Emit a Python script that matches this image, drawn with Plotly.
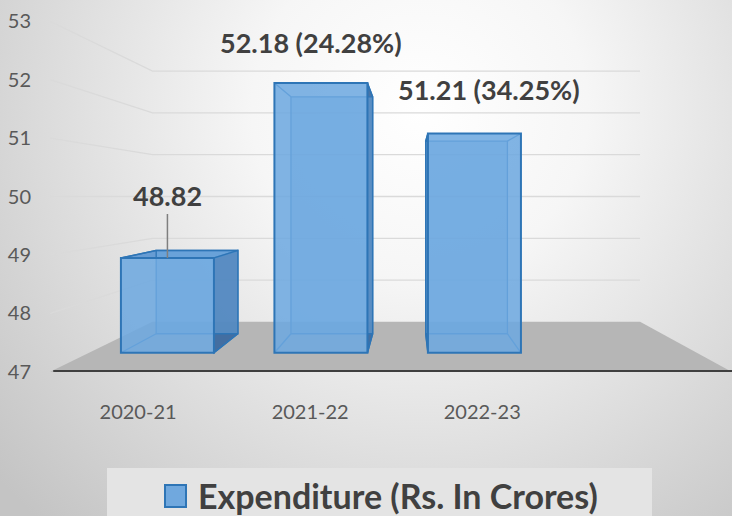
import base64
import plotly.graph_objects as go

# ---------------- data ----------------
categories = ["2020-21", "2021-22", "2022-23"]
expenditure = [48.82, 52.18, 51.21]
growth_pct = [None, 24.28, 34.25]
y_ticks = [47, 48, 49, 50, 51, 52, 53]
series_name = "Expenditure (Rs. In Crores)"

# ---------------- geometry / style ----------------
W, H = 732, 516
ML, MR, MT, MB = 50, 0, 0, 144
PW = W - ML - MR
PH = H - MT - MB

# simple perspective model (bar front plane = depth factor 1)
XV, YV = 1.58, 50.0          # vanishing point (category index, value)
F_FLOOR_FRONT = 1.121
F_BAR_BACK = 0.878
F_WALL = 0.802
X_FLOOR = (-0.511, 3.449)
BASE = 47.0
BAR_W = 0.606

FRONT_PX = 52.1               # px per unit on bar front plane
FRONT_BASE_PX = 352.8         # pixel row of value 47 on front plane
x_range = [-0.765, 3.678]
y_range = [BASE - (PH - FRONT_BASE_PX) / FRONT_PX, BASE + FRONT_BASE_PX / FRONT_PX]

label_dx = [0, -10, 15]
label_dy = [62, 40, 44]
leader = [True, False, False]

TXT = "#404040"
TICK_TXT = "#595959"
FONT = "Lato"
BAR_FILL = "rgba(108,168,224,0.86)"
BAR_LINE = "#2e75b6"


def proj(x, y, f):
    return XV + f * (x - XV), YV + f * (y - YV)


def path(pts, close=True):
    s = "M " + " L ".join(f"{a:.4f},{b:.4f}" for a, b in pts)
    return s + (" Z" if close else "")


def pxx(px):
    return (px - ML) / PW


def pxy(py):
    return (MT + PH - py) / PH


shapes = []
# floor
fl = [proj(X_FLOOR[0], BASE, F_FLOOR_FRONT), proj(X_FLOOR[1], BASE, F_FLOOR_FRONT),
      proj(X_FLOOR[1], BASE, F_WALL), proj(X_FLOOR[0], BASE, F_WALL)]
shapes.append(dict(type="path", xref="x", yref="y", path=path(fl),
                   fillcolor="#b6b6b6", line=dict(width=0), layer="below"))
# wall gridlines
for g in y_ticks:
    if g == BASE:
        continue
    pts = [proj(X_FLOOR[0], g, F_FLOOR_FRONT), proj(X_FLOOR[0], g, F_WALL),
           proj(X_FLOOR[1], g, F_WALL)]
    shapes.append(dict(type="path", xref="x", yref="y", path=path(pts, close=False),
                       line=dict(color="#dadada", width=1.3), layer="below"))
# axis line
a0 = proj(X_FLOOR[0], BASE, F_FLOOR_FRONT)
a1 = proj(X_FLOOR[1], BASE, F_FLOOR_FRONT)
shapes.append(dict(type="line", xref="x", yref="y", x0=a0[0] + 0.02, y0=a0[1],
                   x1=a1[0] + 0.2, y1=a1[1], line=dict(color="#3f3f3f", width=3.5),
                   layer="below"))

# 3D box edges for each bar
for i, v in enumerate(expenditure):
    x0, x1 = i - BAR_W / 2, i + BAR_W / 2
    fr = {"bl": (x0, BASE), "br": (x1, BASE), "tr": (x1, v), "tl": (x0, v)}
    bk = {k: proj(p[0], p[1], F_BAR_BACK) for k, p in fr.items()}
    if x1 < XV:
        shapes.append(dict(type="path", xref="x", yref="y",
                           path=path([fr["br"], fr["tr"], bk["tr"], bk["br"]]),
                           fillcolor="rgba(58,104,160,0.92)", line=dict(color=BAR_LINE, width=1.5),
                           layer="below"))
    if x0 > XV:
        shapes.append(dict(type="path", xref="x", yref="y",
                           path=path([fr["bl"], fr["tl"], bk["tl"], bk["bl"]]),
                           fillcolor="rgba(58,104,160,0.92)", line=dict(color=BAR_LINE, width=1.5),
                           layer="below"))
    if v < YV:
        shapes.append(dict(type="path", xref="x", yref="y",
                           path=path([fr["tl"], fr["tr"], bk["tr"], bk["tl"]]),
                           fillcolor="rgba(96,152,210,0.95)", line=dict(color=BAR_LINE, width=1.5),
                           layer="below"))
    shapes.append(dict(type="path", xref="x", yref="y",
                       path=path([bk["bl"], bk["br"], bk["tr"], bk["tl"]]),
                       fillcolor="rgba(108,168,224,0.5)", line=dict(color=BAR_LINE, width=1.3),
                       layer="below"))
    for k in fr:
        shapes.append(dict(type="line", xref="x", yref="y",
                           x0=fr[k][0], y0=fr[k][1], x1=bk[k][0], y1=bk[k][1],
                           line=dict(color=BAR_LINE, width=1.3), layer="below"))

# legend box (custom)
shapes.append(dict(type="rect", xref="paper", yref="paper",
                   x0=pxx(107), x1=pxx(652), y0=pxy(518), y1=pxy(468),
                   fillcolor="#e4e4e4", line=dict(width=0), layer="below"))
shapes.append(dict(type="rect", xref="paper", yref="paper",
                   x0=pxx(165), x1=pxx(186), y0=pxy(507), y1=pxy(485),
                   fillcolor="rgb(112,168,222)", line=dict(color=BAR_LINE, width=2),
                   layer="above"))

annotations = []
for i, v in enumerate(expenditure):
    txt = f"{v:.2f}" + (f" ({growth_pct[i]:.2f}%)" if growth_pct[i] is not None else "")
    if leader[i]:
        annotations.append(dict(x=i, y=v, xref="x", yref="y", text=txt,
                                showarrow=True, arrowhead=0, arrowwidth=1.5,
                                arrowcolor="#7f7f7f", ax=label_dx[i], ay=-label_dy[i],
                                font=dict(family=FONT, size=27, color=TXT, weight="bold")))
    else:
        annotations.append(dict(x=i, y=v, xref="x", yref="y", text=txt,
                                showarrow=False, xshift=label_dx[i], yshift=label_dy[i],
                                font=dict(family=FONT, size=27, color=TXT, weight="bold")))

annotations.append(dict(x=pxx(196), y=pxy(495), xref="paper", yref="paper",
                        xanchor="left", yanchor="middle", showarrow=False,
                        text=series_name,
                        font=dict(family=FONT, size=34, color=TXT, weight="bold")))

svg = ('<svg xmlns="http://www.w3.org/2000/svg" width="732" height="516">'
       '<defs><radialGradient id="g" cx="420" cy="110" r="560" gradientUnits="userSpaceOnUse">'
       '<stop offset="0" stop-color="#ffffff"/><stop offset="0.3" stop-color="#f6f6f6"/>'
       '<stop offset="1" stop-color="#c4c4c4"/></radialGradient></defs>'
       '<rect width="732" height="516" fill="url(#g)"/></svg>')
bg_src = "data:image/svg+xml;base64," + base64.b64encode(svg.encode()).decode()

x_positions = list(range(len(categories)))
tick_x = [proj(i, BASE, F_FLOOR_FRONT)[0] for i in x_positions]
tick_y = [proj(0, g, F_FLOOR_FRONT)[1] for g in y_ticks]

fig = go.Figure()
fig.add_trace(go.Bar(
    x=x_positions, y=[v - BASE for v in expenditure], base=[BASE] * len(expenditure),
    width=BAR_W, name=series_name, showlegend=False,
    marker=dict(color=BAR_FILL, line=dict(color=BAR_LINE, width=2)),
    hovertext=[f"{c}: {v}" for c, v in zip(categories, expenditure)], hoverinfo="text",
))

fig.update_layout(
    width=W, height=H,
    margin=dict(l=ML, r=MR, t=MT, b=MB),
    paper_bgcolor="#d9d9d9", plot_bgcolor="rgba(0,0,0,0)",
    showlegend=False,
    xaxis=dict(range=x_range, tickmode="array", tickvals=tick_x, ticktext=categories,
               showgrid=False, zeroline=False, showline=False,
               ticks="outside", ticklen=22, tickcolor="rgba(0,0,0,0)",
               tickfont=dict(family=FONT, size=20, color=TICK_TXT)),
    yaxis=dict(range=y_range, tickmode="array", tickvals=tick_y,
               ticktext=[str(g) for g in y_ticks],
               showgrid=False, zeroline=False, showline=False,
               ticks="outside", ticklen=14, tickcolor="rgba(0,0,0,0)",
               tickfont=dict(family=FONT, size=20, color=TICK_TXT)),
    shapes=shapes,
    annotations=annotations,
    images=[dict(source=bg_src, xref="paper", yref="paper", x=-ML / PW, y=1 + MT / PH,
                 sizex=W / PW, sizey=H / PH, xanchor="left", yanchor="top",
                 sizing="stretch", layer="below")],
)

fig.write_html("out.html", config={"displayModeBar": False},
               post_script="document.body.style.margin='0px';document.body.style.overflow='hidden';")
